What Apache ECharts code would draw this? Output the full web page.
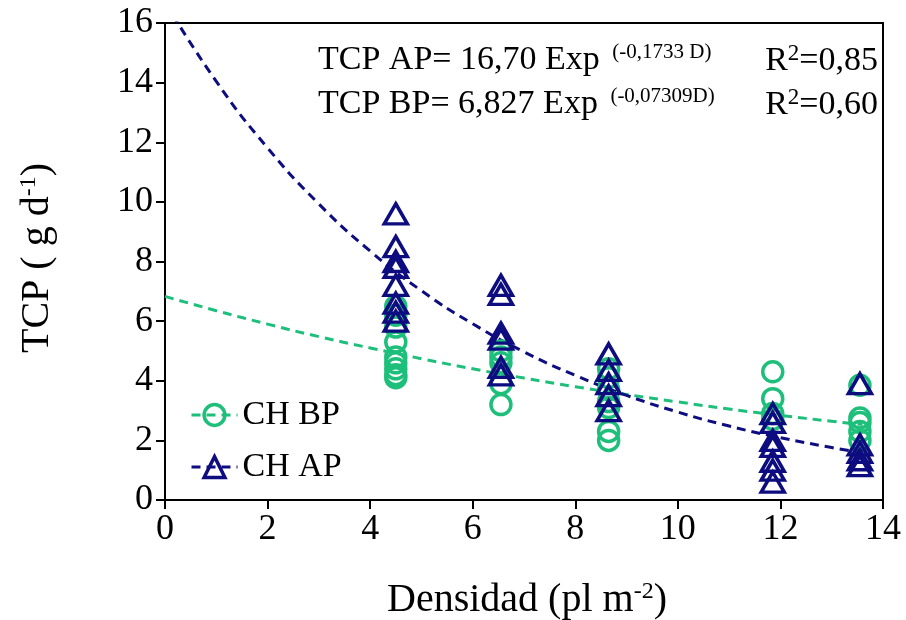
<!DOCTYPE html>
<html>
<head>
<meta charset="utf-8">
<script src="https://cdn.jsdelivr.net/npm/echarts@6/dist/echarts.min.js"></script>
<style>html,body{margin:0;padding:0;background:#fff}#c{width:906px;height:620px}</style>
</head>
<body>
<div id="c"></div>
<script>
// ---- data ----
const xTicks = [0, 2, 4, 6, 8, 10, 12, 14];
const yTicks = [0, 2, 4, 6, 8, 10, 12, 14, 16];

// CH BP (circles)
const bpX = [4.5,4.5,4.5,4.5,4.5,4.5,4.5,4.5,4.5, 6.55,6.55,6.55,6.55,6.55, 8.65,8.65,8.65,8.65,8.65,8.65,8.65, 11.85,11.85,11.85,11.85, 13.55,13.55,13.55,13.55,13.55];
const bpY = [6.5,6.2,5.8,5.3,4.8,4.6,4.4,4.2,4.1, 5.0,4.8,4.6,3.9,3.2, 4.4,4.1,3.7,3.3,3.1,2.3,2.0, 4.3,3.4,2.9,2.7, 3.85,2.75,2.6,2.3,2.0];

// CH AP (triangles)
const apX = [4.5,4.5,4.5,4.5,4.5,4.5,4.5,4.5, 6.55,6.55,6.55,6.55,6.55,6.55, 8.65,8.65,8.65,8.65,8.65, 11.85,11.85,11.85,11.85,11.85,11.85,11.85, 13.55,13.55,13.55,13.55,13.55];
const apY = [9.6,8.5,8.0,7.8,7.2,6.6,6.3,6.0, 7.2,6.9,5.6,5.4,4.45,4.2, 4.9,4.35,3.9,3.5,3.0, 2.9,2.6,2.0,1.8,1.3,1.0,0.6, 3.9,1.85,1.6,1.35,1.15];

// fitted curves
const curveD  = [0, 1, 2, 3, 4, 5, 6, 7, 8, 9, 10, 11, 12, 13, 13.6];
const curveAP = [16.70,14.04,11.81,9.93,8.35,7.02,5.91,4.97,4.18,3.51,2.95,2.48,2.09,1.76,1.58];
const curveBP = [6.83,6.35,5.90,5.48,5.10,4.74,4.40,4.09,3.80,3.54,3.29,3.05,2.84,2.64,2.53];

const GREEN = '#1dbf7b';
const NAVY = '#0d0d80';
const CLEAR = 'rgba(255,255,255,0)';
const FONT = '"Liberation Serif", "Times New Roman", serif';

const zip = (a, b) => a.map((v, i) => [v, b[i]]);

const chart = echarts.init(document.getElementById('c'), null, {renderer: 'canvas'});
chart.setOption({
  animation: false,
  backgroundColor: '#fff',
  grid: {left: 165, right: 23, top: 23, bottom: 120, show: true, borderColor: '#000', borderWidth: 2, backgroundColor: 'transparent'},
  xAxis: {
    type: 'value', min: 0, max: 14, interval: 2,
    axisLine: {show: true, onZero: false, lineStyle: {color: '#000', width: 2}},
    axisTick: {show: true, length: 9, lineStyle: {color: '#000', width: 2}},
    axisLabel: {color: '#000', fontFamily: FONT, fontSize: 36, margin: 12},
    splitLine: {show: false}
  },
  yAxis: {
    type: 'value', min: 0, max: 16, interval: 2,
    axisLine: {show: true, onZero: false, lineStyle: {color: '#000', width: 2}},
    axisTick: {show: true, length: 9, lineStyle: {color: '#000', width: 2}},
    axisLabel: {color: '#000', fontFamily: FONT, fontSize: 36, margin: 12},
    splitLine: {show: false}
  },
  legend: {
    orient: 'vertical', left: 185, top: 393, itemGap: 18, itemWidth: 46, itemHeight: 26,
    itemStyle: {borderWidth: 3.5},
    lineStyle: {width: 3},
    textStyle: {color: '#000', fontFamily: FONT, fontSize: 34},
    data: ['CH BP', 'CH AP']
  },
  series: [
    {name: 'CH BP', type: 'line', data: zip(curveD, curveBP), smooth: true, showSymbol: false,
     symbol: 'circle', symbolSize: 20, clip: true,
     itemStyle: {color: CLEAR, borderColor: GREEN, borderWidth: 3.5},
     lineStyle: {color: GREEN, width: 3, type: [9, 6]}, z: 2},
    {name: 'CH AP', type: 'line', data: zip(curveD, curveAP), smooth: true, showSymbol: false,
     symbol: 'triangle', symbolSize: [23, 20], clip: true,
     itemStyle: {color: CLEAR, borderColor: NAVY, borderWidth: 3.5},
     lineStyle: {color: NAVY, width: 3, type: [9, 6]}, z: 2},
    {name: 'CH BP', type: 'scatter', data: zip(bpX, bpY), symbol: 'circle', symbolSize: 20,
     itemStyle: {color: CLEAR, borderColor: GREEN, borderWidth: 3.5, opacity: 1}, z: 3},
    {name: 'CH AP', type: 'scatter', data: zip(apX, apY), symbol: 'triangle', symbolSize: [23, 20],
     itemStyle: {color: CLEAR, borderColor: NAVY, borderWidth: 3.5, opacity: 1}, z: 4}
  ],
  graphic: [
    {type: 'text', left: 318, top: 42, z: 10, style: {
      text: '{a|TCP AP= 16,70 Exp }{s|(-0,1733 D)}', fill: '#000',
      rich: {a: {fontFamily: FONT, fontSize: 34, fill: '#000'}, s: {fontFamily: FONT, fontSize: 21, fill: '#000', verticalAlign: 'top', padding: [0,0,16,4]}}}},
    {type: 'text', right: 28, top: 42, z: 10, style: {
      text: '{a|R}{s|2}{a|=0,85}', fill: '#000',
      rich: {a: {fontFamily: FONT, fontSize: 34, fill: '#000'}, s: {fontFamily: FONT, fontSize: 23, fill: '#000', verticalAlign: 'top', padding: [0,0,16,0]}}}},
    {type: 'text', left: 318, top: 86, z: 10, style: {
      text: '{a|TCP BP= 6,827 Exp }{s|(-0,07309D)}', fill: '#000',
      rich: {a: {fontFamily: FONT, fontSize: 34, fill: '#000'}, s: {fontFamily: FONT, fontSize: 21, fill: '#000', verticalAlign: 'top', padding: [0,0,16,4]}}}},
    {type: 'text', right: 28, top: 86, z: 10, style: {
      text: '{a|R}{s|2}{a|=0,60}', fill: '#000',
      rich: {a: {fontFamily: FONT, fontSize: 34, fill: '#000'}, s: {fontFamily: FONT, fontSize: 23, fill: '#000', verticalAlign: 'top', padding: [0,0,16,0]}}}},
    {type: 'text', x: 527, y: 600, z: 10, style: {
      text: '{a|Densidad (pl m}{s|-2}{a|)}', align: 'center', verticalAlign: 'middle',
      rich: {a: {fontFamily: FONT, fontSize: 40, fill: '#000'}, s: {fontFamily: FONT, fontSize: 24, fill: '#000', verticalAlign: 'top', padding: [0,0,16,0]}}}},
    {type: 'text', x: 37, y: 258, rotation: Math.PI / 2, z: 10, style: {
      text: '{a|TCP ( g d}{s|-1}{a|)}', align: 'center', verticalAlign: 'middle',
      rich: {a: {fontFamily: FONT, fontSize: 40, fill: '#000'}, s: {fontFamily: FONT, fontSize: 24, fill: '#000', verticalAlign: 'top', padding: [0,0,16,0]}}}}
  ]
});
</script>
</body>
</html>
